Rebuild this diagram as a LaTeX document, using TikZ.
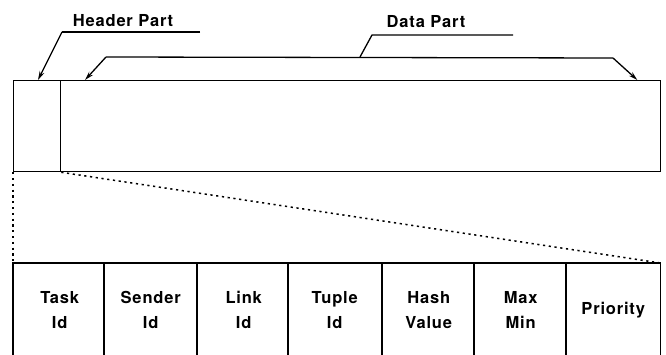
\documentclass[tikz,border=0pt]{standalone}
\usepackage{fontspec}
\setmainfont{TeX Gyre Heros}
\newfontfamily\lblfont[LetterSpace=5]{TeX Gyre Heros}
\usetikzlibrary{arrows.meta,calc}
\tikzset{
  lbl/.style={font=\lblfont\bfseries\fontsize{16.5}{25}\selectfont, inner sep=0pt},
  part/.style={draw, line width=1.3pt, minimum height=91pt, inner sep=0pt, anchor=north west},
  field/.style={minimum width=93pt, minimum height=93pt, inner sep=0pt, anchor=north west,
    align=center, font=\lblfont\bfseries\fontsize{16.5}{25}\selectfont},
  leader/.style={line width=1.3pt},
  pointer/.style={line width=1.3pt, -{Stealth[length=9pt,width=5pt]}},
  zoomline/.style={line width=1.5pt, dash pattern=on 2.2pt off 3.6pt},
}
\begin{document}
\begin{tikzpicture}[x=1pt,y=-1pt]
\useasboundingbox (0,0) rectangle (666,355);

% packet: header and data parts
\node[part, minimum width=47pt] (hdr) at (13,80) {};
\node[part, minimum width=600pt] (data) at (60,80) {};

% labels with their leader lines
\node[lbl] (hlbl) at (123,21) {Header Part};
\node[lbl] (dlbl) at (426,22) {Data Part};

\coordinate (hk) at (62,32);
\coordinate (he) at (200,32);
\draw[leader] (he) -- (hk);
\draw[pointer] (hk) -- ($(hdr.north west)+(25,0)$);

\coordinate (dk) at (372,35);
\coordinate (de) at (513,35);
\coordinate (dj) at (360,57);
\coordinate (dl) at (106,57);
\coordinate (dr) at (613,58);
\draw[leader] (de) -- (dk) -- (dj);
\draw[leader] (dl) -- (dr);
\draw[pointer] (dl) -- ($(data.north west)+(25,0)$);
\draw[pointer] (dr) -- ($(data.north east)+(-24,0)$);

% header fields
\node[field] (f1) at (13,263)  {Task\\Id};
\node[field] (f2) at (104,263) {Sender\\Id};
\node[field] (f3) at (197,263) {Link\\Id};
\node[field] (f4) at (288,263) {Tuple\\Id};
\node[field] (f5) at (382,263) {Hash\\Value};
\node[field] (f6) at (474,263) {Max\\Min};
\node[field, minimum width=94pt] (f7) at (566,263) {Priority};

\draw[leader] (f1.south west) -- (f1.north west) -- (f7.north east) -- (f7.south east);
\foreach \c in {f2,f3,f4,f5,f6,f7}
  \draw[leader] (\c.north west) -- (\c.south west);

% expansion of the header part
\draw[zoomline] (hdr.south west) -- (f1.north west);
\draw[zoomline] (hdr.south east) -- (f7.north east);
\end{tikzpicture}
\end{document}
